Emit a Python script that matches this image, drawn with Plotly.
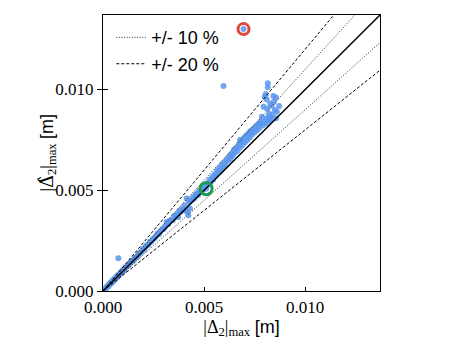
import plotly.graph_objects as go

x_vals = [0.00003, 0.00006, 0.0001, 0.00013, 0.00016, 0.0002, 0.00024, 0.00027, 0.0003, 0.00034,
          0.00037, 0.0004, 0.00044, 0.00047, 0.0005, 0.00054, 0.00058, 0.00062, 0.00066, 0.0007,
          0.00074, 0.00076, 0.0008, 0.00085, 0.0009, 0.00095, 0.001, 0.00106, 0.00112, 0.00118,
          0.00125, 0.0013, 0.00137, 0.00143, 0.0015, 0.00156, 0.00163, 0.0017, 0.00176, 0.00183,
          0.0019, 0.00197, 0.00204, 0.0021, 0.00218, 0.00225, 0.00232, 0.0024, 0.00247, 0.00255,
          0.00262, 0.0027, 0.00278, 0.00285, 0.00293, 0.003, 0.00308, 0.00315, 0.00322, 0.0033,
          0.00338, 0.00345, 0.00352, 0.0036, 0.00367, 0.00372, 0.00378, 0.00385, 0.00392, 0.00398,
          0.00405, 0.00414, 0.0041, 0.00418, 0.00422, 0.0043, 0.00425, 0.00432, 0.0044, 0.00446,
          0.00452, 0.00458, 0.00464, 0.0047, 0.00476, 0.00482, 0.00488, 0.00494, 0.005, 0.0051,
          0.00514, 0.0052, 0.00527, 0.00532, 0.0054, 0.00545, 0.00552, 0.00558, 0.00564, 0.0057,
          0.00576, 0.00582, 0.00588, 0.00596, 0.00594, 0.006, 0.00606, 0.00612, 0.00618, 0.00624,
          0.0063, 0.00632, 0.00636, 0.00642, 0.00648, 0.00654, 0.0066, 0.00666, 0.00672, 0.00678,
          0.00678, 0.00684, 0.0069, 0.00695, 0.00696, 0.00702, 0.00708, 0.00714, 0.0072, 0.00726,
          0.00728, 0.00732, 0.00738, 0.00744, 0.0075, 0.00756, 0.00762, 0.00768, 0.00774, 0.00777,
          0.0078, 0.00786, 0.0079, 0.00794, 0.008, 0.008, 0.0081, 0.00808, 0.00815, 0.00815,
          0.00812, 0.0082, 0.00827, 0.00827, 0.00835, 0.00843, 0.00856, 0.0085, 0.0086, 0.00856,
          0.00871, 0.00822, 0.00818, 0.0083, 0.00838, 0.00845, 0.0081, 0.00805]
y_vals = [0.00003, 0.00005, 0.00011, 0.00012, 0.00018, 0.00019, 0.00026, 0.00025, 0.00033, 0.00032,
          0.00041, 0.00039, 0.00047, 0.00045, 0.00055, 0.00052, 0.00062, 0.0006, 0.0007, 0.00068,
          0.00079, 0.00162, 0.00078, 0.0009, 0.00088, 0.001, 0.00104, 0.00103, 0.00118, 0.00121,
          0.00127, 0.00136, 0.0014, 0.00149, 0.0015, 0.00163, 0.00168, 0.00171, 0.00185, 0.00188,
          0.00195, 0.00208, 0.00206, 0.00219, 0.00228, 0.00229, 0.00245, 0.00246, 0.00258, 0.00262,
          0.00272, 0.00286, 0.00283, 0.00298, 0.00307, 0.00308, 0.00322, 0.00342, 0.00331, 0.00348,
          0.00352, 0.00351, 0.00372, 0.00374, 0.00381, 0.00366, 0.00398, 0.00393, 0.0041, 0.00402,
          0.00425, 0.00459, 0.00398, 0.00392, 0.00376, 0.00409, 0.00441, 0.00448, 0.00452, 0.00466,
          0.00461, 0.00478, 0.00483, 0.00476, 0.00497, 0.00492, 0.00508, 0.00502, 0.00521, 0.00508,
          0.00533, 0.00528, 0.00552, 0.00541, 0.00566, 0.00553, 0.00578, 0.00572, 0.00598, 0.00588,
          0.00612, 0.00598, 0.00627, 0.01017, 0.00612, 0.00638, 0.00624, 0.00652, 0.00647, 0.00668,
          0.00655, 0.00669, 0.00681, 0.00672, 0.00702, 0.00688, 0.00711, 0.00697, 0.00728, 0.00712,
          0.00749, 0.00742, 0.00725, 0.0130, 0.0076, 0.00738, 0.00772, 0.0075, 0.00783, 0.00762,
          0.0079, 0.00795, 0.00777, 0.00805, 0.00788, 0.00818, 0.00798, 0.00828, 0.0081, 0.00832,
          0.0084, 0.00865, 0.00822, 0.00915, 0.00964, 0.0084, 0.00832, 0.00855, 0.01031, 0.01011,
          0.00905, 0.00865, 0.00848, 0.0093, 0.0092, 0.00968, 0.00961, 0.00898, 0.0089, 0.00857,
          0.00918, 0.0088, 0.00847, 0.0086, 0.00875, 0.0094, 0.0095, 0.00978]

# highlighted cases
red_pt = (0.00695, 0.0130)
green_pt = (0.0051, 0.00508)

# reference line span and tolerance bands
line_x = [0.0, 0.0137]
band_10 = [1.1, 0.9]
band_20 = [1.2, 0.8]
tick_vals = [0, 0.005, 0.010]
tick_text = ['0.000', '0.005', '0.010']

fig = go.Figure()

fig.add_trace(go.Scatter(
    x=x_vals, y=y_vals, mode='markers', showlegend=False,
    marker=dict(color='#5b97ef', size=6, opacity=0.85, line=dict(width=0))
))

# y = x
fig.add_trace(go.Scatter(
    x=line_x, y=line_x, mode='lines', showlegend=False,
    line=dict(color='black', width=1.5)
))

for i, f in enumerate(band_10):
    fig.add_trace(go.Scatter(
        x=line_x, y=[v * f for v in line_x], mode='lines',
        name='+/- 10 %', showlegend=(i == 0),
        line=dict(color='#333333', width=1, dash='1px,1.6px')
    ))

for i, f in enumerate(band_20):
    fig.add_trace(go.Scatter(
        x=line_x, y=[v * f for v in line_x], mode='lines',
        name='+/- 20 %', showlegend=(i == 0),
        line=dict(color='black', width=1, dash='3px,2px')
    ))

# circled points
fig.add_trace(go.Scatter(
    x=[red_pt[0]], y=[red_pt[1]], mode='markers', showlegend=False,
    marker=dict(symbol='circle-open', size=11, color='#e2473d', line=dict(width=3))
))
fig.add_trace(go.Scatter(
    x=[green_pt[0]], y=[green_pt[1]], mode='markers', showlegend=False,
    marker=dict(symbol='circle-open', size=12, color='#1e9a58', line=dict(width=3))
))

axis_style = dict(
    range=[0, 0.0137], tickvals=tick_vals, ticktext=tick_text,
    showgrid=False, zeroline=False, showline=True, linecolor='black', linewidth=1.2,
    mirror=True, ticklen=4, tickcolor='black', automargin=False,
    tickfont=dict(family='Liberation Serif', size=17, color='black')
)
title_font = dict(family='Liberation Serif', size=18, color='black')

fig.update_layout(
    width=455, height=350,
    margin=dict(l=95, r=83, t=7, b=67),
    plot_bgcolor='white', paper_bgcolor='white',
    xaxis=dict(axis_style, ticks='inside',
               title=dict(text="|Δ<sub>2</sub>|<sub>max</sub> <span style='font-family:Liberation Sans'>[m]</span>",
                          font=title_font, standoff=4)),
    yaxis=dict(axis_style, ticks='outside', ticklen=5,
               minor=dict(ticks='inside', tickvals=tick_vals, ticklen=5, tickcolor='black')),
    legend=dict(x=0.03, y=0.985, xanchor='left', yanchor='top', bgcolor='rgba(0,0,0,0)',
                font=dict(family='Liberation Sans', size=18, color='black'),
                itemwidth=30, tracegroupgap=0),
)

# y axis title placed by hand so it sits closer to the tick labels
fig.add_annotation(
    text="|<span style='font-family:DejaVu Serif'>Δ\u0302</span><sub>2</sub>|<sub>max</sub> "
         "<span style='font-family:Liberation Sans'>[m]</span>",
    xref='paper', yref='paper', x=-0.2, y=0.5, xanchor='center', yanchor='middle',
    textangle=-90, showarrow=False, font=title_font
)

fig.write_html("out.html")
